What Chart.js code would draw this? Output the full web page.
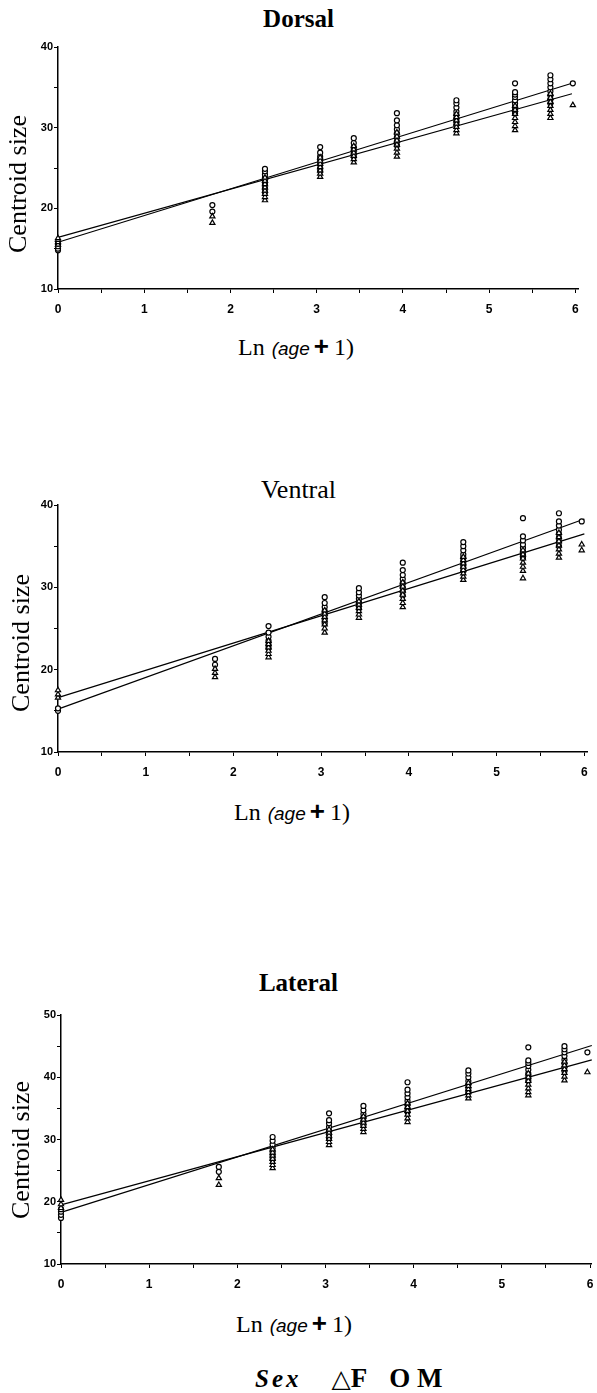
<!DOCTYPE html>
<html>
<head>
<meta charset="utf-8">
<script src="https://cdn.jsdelivr.net/npm/chart.js@4.4.0/dist/chart.umd.min.js"></script>
<style>
  body { margin: 0; background: #fff; }
  #page { position: relative; width: 597px; height: 1393px; overflow: hidden; font-family: "Liberation Serif", serif; color: #000; }
  canvas { position: absolute; left: 0; }
  .title { position: absolute; left: 0; width: 597px; text-align: center; font-size: 25px; line-height: 25px; }
  .ytitle { position: absolute; width: 160px; height: 26px; line-height: 26px; font-family: "Liberation Serif", serif; font-size: 26px; text-align: center; white-space: nowrap; transform: rotate(-90deg); }
  .xtitle { position: absolute; white-space: nowrap; line-height: 26px; height: 26px; }
  .xtitle .ln { font-family: "Liberation Serif", serif; font-size: 24px; }
  .xtitle .age { font-family: "Liberation Sans", sans-serif; font-style: italic; font-size: 19px; margin-left: 7px; }
  .xtitle .plus { font-family: "Liberation Sans", sans-serif; font-weight: bold; font-size: 26px; margin-left: 4px; }
  .xtitle .one { font-family: "Liberation Serif", serif; font-size: 24px; margin-left: 5px; }
  .legend { position: absolute; white-space: nowrap; font-size: 27px; font-weight: bold; line-height: 30px; }
</style>
</head>
<body>
<div id="page">
  <div class="title" style="top:6px; font-weight:bold;">Dorsal</div>
  <canvas id="dorsal" width="597" height="330" style="top:0px"></canvas>
  <div class="ytitle" style="left:-62px; top:171px;">Centroid size</div>
  <div class="xtitle" style="left:238px; top:333px;"><span class="ln">Ln</span><span class="age">(age</span><span class="plus">+</span><span class="one">1)</span></div>

  <div class="title" style="top:477px; font-size:26px;">Ventral</div>
  <canvas id="ventral" width="597" height="330" style="top:450px"></canvas>
  <div class="ytitle" style="left:-59px; top:630px;">Centroid size</div>
  <div class="xtitle" style="left:234px; top:798px;"><span class="ln">Ln</span><span class="age">(age</span><span class="plus">+</span><span class="one">1)</span></div>

  <div class="title" style="top:970px; font-weight:bold;">Lateral</div>
  <canvas id="lateral" width="597" height="330" style="top:960px"></canvas>
  <div class="ytitle" style="left:-59px; top:1137px;">Centroid size</div>
  <div class="xtitle" style="left:236px; top:1310px;"><span class="ln">Ln</span><span class="age">(age</span><span class="plus">+</span><span class="one">1)</span></div>

  <div class="legend" style="left:255px; top:1363px;"><span style="font-style:italic; letter-spacing:3px; font-size:25px;">Sex</span><span style="margin-left:30px; font-family:'DejaVu Sans'; font-weight:normal; font-size:25px;">△</span><span>F</span><span style="margin-left:22px;">O M</span></div>
</div>

<script>
// x positions of the age groups, Ln(age + 1)
const ageX = [0, 1.79, 2.40, 3.04, 3.43, 3.93, 4.62, 5.30, 5.71, 5.97];
const xTickMarks = [0, 0.5, 1, 1.5, 2, 2.5, 3, 3.5, 4, 4.5, 5, 5.5, 6];
const xTickLabels = [0, 1, 2, 3, 4, 5, 6];

// Dorsal centroid size, one list per age group
const dorsalF = [[15.5, 15.8, 16.1, 16.3], [18.2, 19.0],
  [21.0, 21.4, 21.8, 22.2, 22.6, 23.0, 23.4, 23.8], [23.9, 24.3, 24.7, 25.1, 25.5, 25.9, 26.3],
  [25.7, 26.1, 26.5, 26.9, 27.3, 27.7], [26.4, 26.9, 27.4, 27.9, 28.4, 28.9, 29.4],
  [29.3, 29.7, 30.1, 30.5, 30.9, 31.3, 31.7], [29.7, 30.2, 30.7, 31.2, 31.7, 32.2, 32.7],
  [31.2, 31.7, 32.2, 32.7, 33.2, 33.7, 34.2], [32.8]];
const dorsalM = [[14.8, 15.0, 15.3, 15.6], [19.6, 20.4],
  [22.0, 22.5, 23.0, 23.4, 23.8, 24.2, 24.6, 24.9], [24.6, 25.0, 25.5, 26.0, 26.4, 26.9, 27.6],
  [26.4, 26.8, 27.2, 27.6, 28.1, 28.7], [27.8, 28.3, 28.8, 29.3, 29.8, 30.3, 30.9, 31.8],
  [30.4, 30.8, 31.2, 31.6, 32.0, 32.5, 33.0, 33.4], [31.8, 32.2, 32.6, 33.0, 33.4, 33.8, 34.1, 34.4, 35.5],
  [33.0, 33.5, 34.0, 34.5, 35.0, 35.5, 36.0, 36.5], [35.5]];
const dorsalFitX = [0, 5.96];
const dorsalFitF = [16.4, 34.2];
const dorsalFitM = [15.8, 35.5];
const dorsalYTicks = [10, 15, 20, 25, 30, 35, 40];
const dorsalYLabels = [10, 20, 30, 40];

// Ventral
const ventralF = [[16.6, 17.0, 17.5], [19.1, 19.6, 20.1],
  [21.5, 21.9, 22.3, 22.7, 23.1, 23.5], [24.5, 25.0, 25.5, 26.0, 26.4, 26.8, 27.2],
  [26.3, 26.7, 27.1, 27.5, 27.9, 28.3], [27.6, 28.1, 28.6, 29.1, 29.6, 30.1, 30.6],
  [30.9, 31.3, 31.7, 32.1, 32.5, 32.9, 33.3, 33.7], [31.1, 32.0, 32.5, 33.0, 33.5, 34.0, 34.5],
  [33.6, 34.1, 34.6, 35.1, 35.6, 36.1, 36.6], [34.5, 35.2]];
const ventralM = [[15.0, 15.3], [20.6, 21.3],
  [22.6, 23.0, 23.5, 24.0, 24.5, 25.3], [25.6, 26.1, 26.6, 27.1, 27.6, 28.1, 28.8],
  [27.4, 27.8, 28.2, 28.6, 29.0, 29.4, 29.9], [29.0, 29.5, 30.0, 30.5, 31.0, 31.5, 32.1, 33.0],
  [32.0, 32.4, 32.8, 33.2, 33.6, 34.0, 34.5, 35.0, 35.5], [33.6, 34.0, 34.4, 34.8, 35.2, 35.7, 36.2, 38.4],
  [35.0, 35.5, 36.0, 36.5, 37.0, 37.5, 38.0, 39.0], [38.0]];
const ventralFitX = [0, 6.0];
const ventralFitF = [16.6, 36.5];
const ventralFitM = [15.2, 38.3];
const ventralYTicks = [10, 15, 20, 25, 30, 35, 40];
const ventralYLabels = [10, 20, 30, 40];

// Lateral
const lateralF = [[19.0, 19.6, 20.3], [22.7, 23.8],
  [25.4, 25.9, 26.4, 26.9, 27.4, 27.9, 28.4], [29.1, 29.6, 30.1, 30.6, 31.1, 31.6],
  [31.2, 31.7, 32.2, 32.7, 33.2, 33.7], [32.8, 33.4, 34.0, 34.6, 35.2, 35.8],
  [36.6, 37.1, 37.6, 38.1, 38.6, 39.1], [37.1, 37.6, 38.2, 38.8, 39.4, 40.0, 40.6],
  [39.5, 40.1, 40.7, 41.3, 41.9, 42.5], [40.8]];
const lateralM = [[17.4, 17.9, 18.4, 18.8], [24.8, 25.6],
  [26.8, 27.4, 28.0, 28.6, 29.2, 29.8, 30.4], [30.2, 30.8, 31.4, 32.0, 32.6, 33.1, 34.2],
  [32.3, 32.9, 33.5, 34.1, 34.7, 35.4], [34.4, 35.0, 35.6, 36.2, 36.8, 37.4, 38.0, 39.2],
  [37.6, 38.2, 38.8, 39.4, 40.0, 40.6, 41.1], [39.4, 40.0, 40.6, 41.2, 41.8, 42.3, 42.7, 44.8],
  [41.0, 41.6, 42.2, 42.8, 43.4, 44.0, 44.5, 45.0], [44.0]];
const lateralFitX = [0, 6.02];
const lateralFitF = [19.5, 42.8];
const lateralFitM = [18.3, 45.1];
const lateralYTicks = [10, 15, 20, 25, 30, 35, 40, 45, 50];
const lateralYLabels = [10, 20, 30, 40, 50];

const toPoints = (cols) => {
  const pts = [];
  cols.forEach((col, i) => col.forEach(v => pts.push({ x: ageX[i], y: v })));
  return pts;
};
const toLine = (xs, ys) => xs.map((x, i) => ({ x: x, y: ys[i] }));

const tickFont = { family: 'Liberation Sans', weight: 'bold' };

//################# one panel #################
const drawPanel = (id, p) => {
  new Chart(document.getElementById(id), {
    type: 'scatter',
    data: {
      datasets: [
        { label: 'F', data: toPoints(p.f), pointStyle: 'triangle', pointRadius: 3, borderColor: '#000', backgroundColor: '#fff', borderWidth: 1.2, clip: false },
        { label: 'M', data: toPoints(p.m), pointStyle: 'circle', pointRadius: 2.5, borderColor: '#000', backgroundColor: '#fff', borderWidth: 1.2, clip: false },
        { type: 'line', label: 'F fit', data: toLine(p.fitX, p.fitF), borderColor: '#000', borderWidth: 1.2, pointRadius: 0, fill: false, clip: false },
        { type: 'line', label: 'M fit', data: toLine(p.fitX, p.fitM), borderColor: '#000', borderWidth: 1.2, pointRadius: 0, fill: false, clip: false },
      ],
    },
    options: {
      responsive: false,
      animation: false,
      layout: { padding: { left: 0, top: p.padT, right: p.padR, bottom: 0 } },
      plugins: { legend: { display: false }, tooltip: { enabled: false } },
      scales: {
        x: {
          type: 'linear',
          min: 0,
          max: p.xMax,
          afterBuildTicks: (s) => { s.ticks = xTickMarks.map(v => ({ value: v })); },
          afterFit: (s) => { s.height = p.xH; s.paddingLeft = 0; s.paddingRight = 0; },
          ticks: {
            autoSkip: false, maxRotation: 0, padding: 9, color: '#000',
            font: { ...tickFont, size: 12 },
            callback: (v) => xTickLabels.includes(v) ? String(v) : '',
          },
          grid: { drawOnChartArea: false, tickLength: 4, color: '#000', lineWidth: 1 },
          border: { color: '#000', width: 1.5 },
        },
        y: {
          type: 'linear',
          min: 10,
          max: p.yMax,
          afterBuildTicks: (s) => { s.ticks = p.yTicks.map(v => ({ value: v })); },
          afterFit: (s) => { s.width = p.yW; s.paddingTop = 0; s.paddingBottom = 0; },
          ticks: {
            autoSkip: false, padding: 1, color: '#000',
            font: { ...tickFont, size: 11 },
            callback: (v) => p.yLabels.includes(v) ? String(v) : '',
          },
          grid: { drawOnChartArea: false, tickLength: 4, color: '#000', lineWidth: 1 },
          border: { color: '#000', width: 1.5 },
        },
      },
    },
  });
};

drawPanel('dorsal', { f: dorsalF, m: dorsalM, fitX: dorsalFitX, fitF: dorsalFitF, fitM: dorsalFitM,
  yTicks: dorsalYTicks, yLabels: dorsalYLabels, yMax: 40, xMax: 6.03, padT: 47, padR: 19, xH: 41, yW: 58 });
drawPanel('ventral', { f: ventralF, m: ventralM, fitX: ventralFitX, fitF: ventralFitF, fitM: ventralFitM,
  yTicks: ventralYTicks, yLabels: ventralYLabels, yMax: 40, xMax: 6.03, padT: 55, padR: 10, xH: 28, yW: 58 });
drawPanel('lateral', { f: lateralF, m: lateralM, fitX: lateralFitX, fitF: lateralFitF, fitM: lateralFitM,
  yTicks: lateralYTicks, yLabels: lateralYLabels, yMax: 50, xMax: 6.02, padT: 55, padR: 0, xH: 26, yW: 61 });
</script>
</body>
</html>
